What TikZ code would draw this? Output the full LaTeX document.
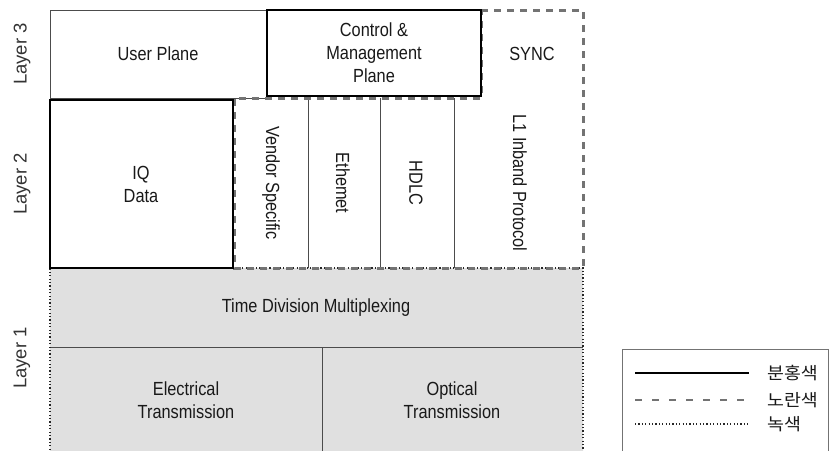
\documentclass[tikz,border=0pt]{standalone}
\usepackage{fontspec}
\setmainfont{Liberation Sans}[FakeStretch=0.86]
\newfontfamily\plainsans{Liberation Sans}
\newfontfamily\kr{Noto Sans CJK KR}[FakeStretch=1.08]
\begin{document}
\begin{tikzpicture}[x=1pt,y=-1pt,
  thinbox/.style={draw=black!70, line width=0.8pt},
  pinkline/.style={draw=black, line width=2.3pt},
  yellowline/.style={draw=black!55, line width=3pt, dash pattern=on 7pt off 6pt},
  greenline/.style={draw=black!85, line width=2pt, dash pattern=on 1.2pt off 2.2pt},
  legendbox/.style={draw=black!55, line width=0.8pt},
  lbl/.style={font=\fontsize{19}{23}\selectfont, align=center, inner sep=0pt, text=black!90},
  layerlbl/.style={font=\plainsans\fontsize{18.5}{21}\selectfont, rotate=90, inner sep=0pt, text=black!80},
  vlbl/.style={font=\fontsize{19}{23}\selectfont, rotate=-90, inner sep=0pt, text=black!90},
  krlbl/.style={font=\kr\fontsize{17}{20}\selectfont, anchor=west, inner sep=0pt, text=black!90}]
\useasboundingbox (0,0) rectangle (830,450);
\begin{scope}
\clip (0,0) rectangle (830,450);
% Layer 1 region
\fill[black!12] (50,268) rectangle (583,460);
\draw[thinbox] (50,347) -- (583,347);
\draw[thinbox] (322,347) -- (322,460);
\draw[greenline] (50,460) -- (50,268) -- (583,268) -- (583,460);
% Layer 3 user plane
\draw[thinbox] (50,10) rectangle (267,98);
% Layer 2 dividers
\draw[thinbox] (308,98) -- (308,268);
\draw[thinbox] (380,98) -- (380,268);
\draw[thinbox] (454,98) -- (454,268);
% dashed (yellow) region
\draw[yellowline] (481,10) -- (583,10) -- (583,268) -- (234,268) -- (234,98) -- (481,98) -- cycle;
% thick (pink) boxes
\draw[pinkline] (267,10) rectangle (481,96);
\draw[pinkline] (50,100) rectangle (233,268);
% legend frame
\draw[legendbox] (622,460) -- (622,349) -- (828,349) -- (828,460);
\end{scope}
% texts
\node[lbl] (user) at (158,54) {User Plane};
\node[lbl] (ctrl) at (374,53) {Control \&\\Management\\Plane};
\node[lbl] (sync) at (532,54) {SYNC};
\node[lbl] (iq) at (141,184) {IQ\\Data};
\node[vlbl] (vendor) at (271,183) {Vendor Specific};
\node[vlbl] (eth) at (343,183) {Ethemet};
\node[vlbl] (hdlc) at (416,183) {HDLC};
\node[vlbl] (l1) at (520,183) {L1 Inband Protocol};
\node[lbl] (tdm) at (316,308) {Time Division Multiplexing};
\node[lbl] (elec) at (186,400) {Electrical\\Transmission};
\node[lbl] (opt) at (452,400) {Optical\\Transmission};
\node[layerlbl] (l3) at (22,54) {Layer 3};
\node[layerlbl] (l2) at (22,184) {Layer 2};
\node[layerlbl] (l1lab) at (22,358) {Layer 1};
% legend
\coordinate (s1) at (635,373); \coordinate (e1) at (749,373);
\coordinate (s2) at (635,400); \coordinate (e2) at (749,400);
\coordinate (s3) at (635,424); \coordinate (e3) at (749,424);
\draw[pinkline] (s1) -- (e1);
\draw[yellowline, line width=2pt, dash pattern=on 7pt off 10pt] (s2) -- (e2);
\draw[greenline, line width=1.5pt] (s3) -- (e3);
\node[krlbl] (k1) at (767,373) {분홍색};
\node[krlbl] (k2) at (767,400) {노란색};
\node[krlbl] (k3) at (767,424) {녹색};
\end{tikzpicture}
\end{document}
